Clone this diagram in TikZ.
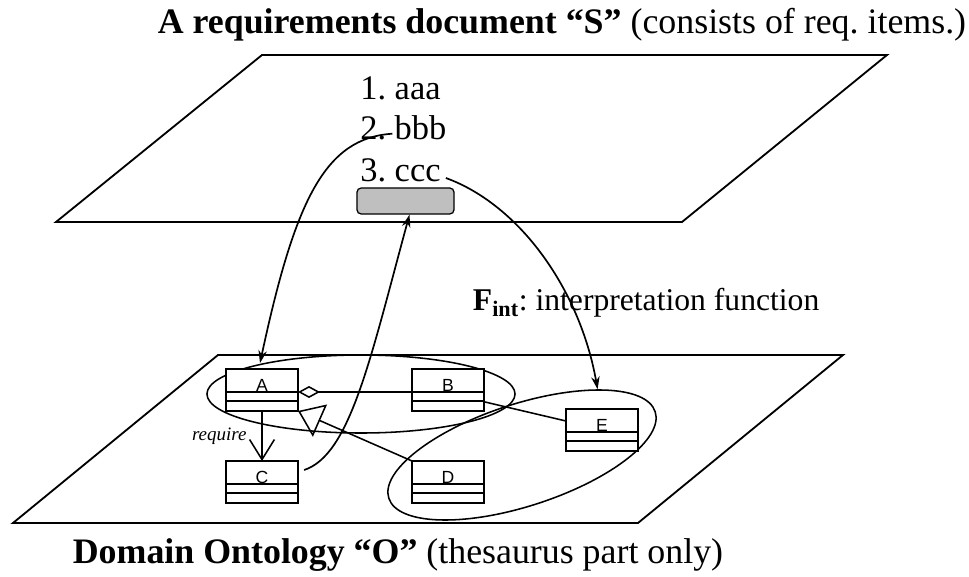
\documentclass[tikz,border=0pt]{standalone}
\usepackage{fontspec}
\setmainfont{Liberation Serif}
\setsansfont{Liberation Sans}
\usetikzlibrary{arrows.meta,shapes.geometric}
\frenchspacing

\begin{document}
\begin{tikzpicture}[
  x=0.025cm, y=-0.025cm,
  plane/.style={line width=1.3pt},
  cls/.style={draw, fill=white, line width=1.6pt, minimum width=1.8cm, minimum height=1.05cm, inner sep=0pt,
    font=\sffamily\fontsize{12.5}{13}\selectfont, text height=0.3cm, text depth=0.25cm,
    path picture={
      \draw[line width=1.1pt] ([yshift=-0.575cm]path picture bounding box.north west) -- ([yshift=-0.575cm]path picture bounding box.north east);
      \draw[line width=1.1pt] ([yshift=-0.8cm]path picture bounding box.north west) -- ([yshift=-0.8cm]path picture bounding box.north east);
    }},
  grp/.style={draw, ellipse, line width=1.1pt, inner sep=0pt},
  reqitem/.style={anchor=west, inner sep=0pt, font=\fontsize{24.5}{28}\selectfont},
  link/.style={line width=1.2pt, -{Stealth[length=9pt,width=6pt]}},
  ttl/.style={font=\fontsize{25.5}{30}\selectfont}
]
\useasboundingbox (0,0) rectangle (969,577);

% Titles
\node[ttl] (ttlS) at (562,25) {\textbf{A requirements document “S”} (consists of req. items.)};
\node[ttl] (ttlO) at (398,555) {\textbf{Domain Ontology “O”} (thesaurus part only)};

% The two planes
\draw[plane] (262,55) -- (887,55) -- (682,222) -- (56,222) -- cycle;
\draw[plane] (218,355) -- (843,355) -- (638,523) -- (13,523) -- cycle;

% Requirements document
\node[reqitem] (item1) at (360,88) {1. aaa};
\node[reqitem] (item2) at (360,128) {2. bbb};
\node[reqitem] (item3) at (360,170) {3. ccc};
\node[draw, fill=black!25, rounded corners=3pt, line width=0.9pt, minimum width=2.425cm, minimum height=0.65cm] (sel) at (405.5,201) {};

\node[anchor=west, font=\fontsize{22.5}{26}\selectfont] (fint) at (468,303) {\textbf{F\textsubscript{int}}: interpretation function};

% Ontology groups
\node[grp, minimum width=7.7cm, minimum height=1.95cm] (grpAB) at (361,394) {};
\node[grp, minimum width=7cm, minimum height=2.55cm, rotate=18] (grpDE) at (522,455) {};

% Relations between classes
\draw[line width=1.1pt, -{Straight Barb[length=0.5cm,width=0.62cm]}] (262,411) -- node[left=0.25cm, font=\itshape\fontsize{13.5}{15}\selectfont] {require} (262,461);
\draw[line width=1.1pt, {Diamond[open,length=0.55cm,width=0.3cm]}-] (298,392) -- (412,392);
\draw[line width=1.1pt, -{Triangle[open,length=0.6cm,width=0.875cm]}] (412,461) -- (298,411);
\draw[line width=1.1pt] (485,402) -- (566,421);

% Classes
\node[cls] (A) at (262,390) {A};
\node[cls] (B) at (448,390) {B};
\node[cls] (C) at (262,482) {C};
\node[cls] (D) at (448,482) {D};
\node[cls] (E) at (602,430) {E};

% Interpretation arrows
\draw[link] ([shift={(-0.275cm,0.15cm)}]item2.base) .. controls (325,138) and (295,200) .. ([shift={(-0.05cm,0.12cm)}]A.north);
\draw[link] ([shift={(0.125cm,0.3cm)}]C.east) .. controls (350,455) and (370,360) .. ([xshift=0.1cm]sel.south);
\draw[link] ([shift={(0.125cm,-0.2cm)}]item3.east) .. controls (520,205) and (580,290) .. (grpDE.23);
\end{tikzpicture}
\end{document}
